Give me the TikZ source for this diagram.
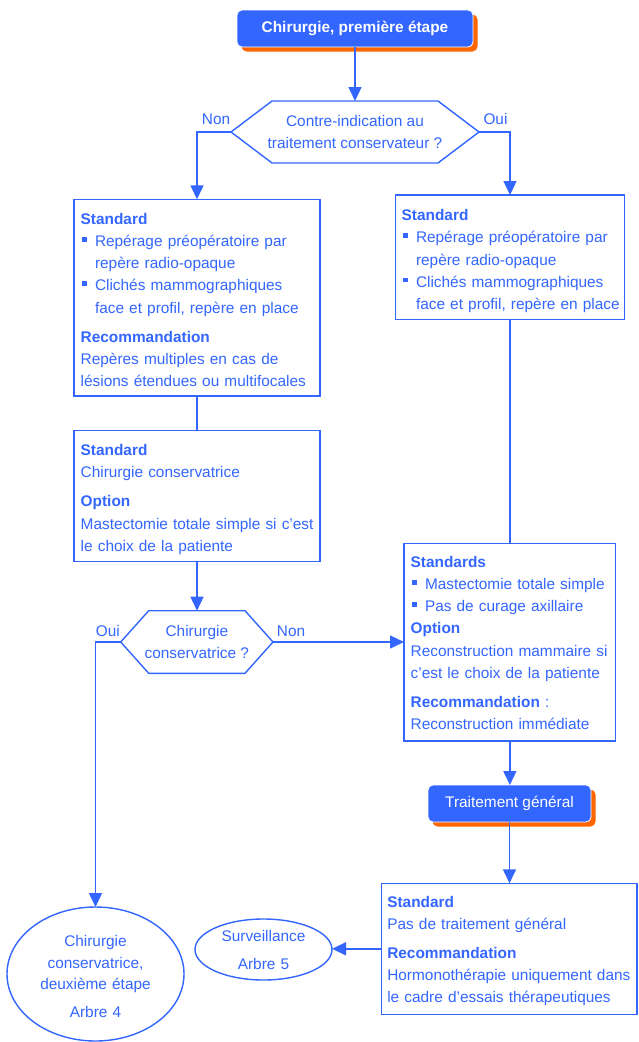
\documentclass[tikz,border=0pt]{standalone}
\usepackage{fontspec}
\setmainfont{Liberation Sans}
\usetikzlibrary{arrows.meta,shapes.geometric,shadows}
\definecolor{bl}{RGB}{51,102,255}
\definecolor{og}{RGB}{255,102,0}
\newcommand\hd[1]{\leavevmode\textbf{#1}\par}
\newcommand\myline[1]{\leavevmode#1\par}
\newcommand\bul[1]{\leavevmode\makebox[14.3pt][l]{\hspace{1.5pt}\rule[5pt]{4.5pt}{4.5pt}}#1\par}
\newcommand\cont[1]{\leavevmode\hspace*{14.3pt}#1\par}
\newcommand\gap{\vspace{6.7pt}}
\begin{document}
\begin{tikzpicture}[x=1pt,y=-1pt,
  every node/.style={text=bl, font=\fontsize{15.4}{22.2}\selectfont},
  ln/.style={draw=bl, line width=1.4pt},
  arr/.style={ln, -{Triangle[length=14pt,width=13pt]}},
  box/.style={draw=bl, line width=1.4pt, inner sep=0pt, outer sep=0pt, rectangle},
  txt/.style={anchor=base west, inner sep=0pt, outer sep=0pt, text width=300pt},
  lbl/.style={anchor=base west, inner sep=0pt},
  hexa/.style={inner sep=0pt, outer sep=0pt, align=center},
  oval/.style={draw=bl, line width=1.4pt, ellipse, inner sep=0pt, outer sep=0pt},
  fancy/.style={rounded corners=5pt, fill=bl, draw=white, line width=0.8pt, text=white, inner sep=0pt, outer sep=0pt,
    general shadow={fill=og, shadow xshift=4.5pt, shadow yshift=-4.5pt}},
]
\useasboundingbox (0,0) rectangle (638,1042);

% title
\node[fancy, minimum width=236pt, minimum height=37pt, font=\fontsize{15.4}{22.2}\selectfont\bfseries] (t) at (355,28.5) {Chirurgie, première étape};

% decision 1
\node[hexa, minimum width=248pt, minimum height=62pt] (d1) at (355,132) {Contre-indication au\\traitement conservateur ?};
\draw[ln] (d1.west) -- ([xshift=41pt]d1.north west) -- ([xshift=-41pt]d1.north east) -- (d1.east) -- ([xshift=-41pt]d1.south east) -- ([xshift=41pt]d1.south west) -- cycle;
\node[lbl] (non1) at (201.7,124) {Non};
\node[lbl] (oui1) at (483.3,124) {Oui};

% boxes
\node[box, minimum width=246pt, minimum height=196.7pt] (b1) at (197,297.65) {};
\node[box, minimum width=228.6pt, minimum height=124.3pt] (b2) at (510,257.15) {};
\node[box, minimum width=246pt, minimum height=131pt] (b3) at (197,496.2) {};
\node[box, minimum width=211.7pt, minimum height=197.7pt] (b4) at (509.85,642.15) {};
\node[box, minimum width=255.3pt, minimum height=131pt] (b5) at (509.35,948.8) {};

\node[txt] (b1t) at (80.7,224.3) {\hd{Standard}\bul{Repérage préopératoire par}\cont{repère radio-opaque}\bul{Clichés mammographiques}\cont{face et profil, repère en place}\gap\hd{Recommandation}\myline{Repères multiples en cas de}\myline{lésions étendues ou multifocales}};
\node[txt] (b2t) at (401.7,220.7) {\hd{Standard}\bul{Repérage préopératoire par}\cont{repère radio-opaque}\bul{Clichés mammographiques}\cont{face et profil, repère en place}};
\node[txt] (b3t) at (80.7,455.7) {\hd{Standard}\myline{Chirurgie conservatrice}\gap\hd{Option}\myline{Mastectomie totale simple si c’est}\myline{le choix de la patiente}};
\node[txt] (b4t) at (410.7,567.3) {\hd{Standards}\bul{Mastectomie totale simple}\bul{Pas de curage axillaire}\hd{Option}\myline{Reconstruction mammaire si}\myline{c’est le choix de la patiente}\gap\myline{\textbf{Recommandation} :}\myline{Reconstruction immédiate}};
\node[txt] (b5t) at (387.3,907.3) {\hd{Standard}\myline{Pas de traitement général}\gap\hd{Recommandation}\myline{Hormonothérapie uniquement dans}\myline{le cadre d’essais thérapeutiques}};

% decision 2
\node[hexa, minimum width=152.3pt, minimum height=62.6pt] (d2) at (196.85,642) {Chirurgie\\conservatrice ?};
\draw[ln] (d2.west) -- ([xshift=28pt]d2.north west) -- ([xshift=-28pt]d2.north east) -- (d2.east) -- ([xshift=-28pt]d2.south east) -- ([xshift=28pt]d2.south west) -- cycle;
\node[lbl] (oui2) at (95.7,636.7) {Oui};
\node[lbl] (non2) at (276.7,636.7) {Non};

% traitement general
\node[fancy, minimum width=163pt, minimum height=37pt] (tg) at (509.5,803.5) {Traitement général};

% ellipses
\node[oval, minimum width=177pt, minimum height=134pt] (e1) at (95.5,974) {};
\node[txt, text width=170pt, align=center, anchor=base, font=\fontsize{15.4}{21.3}\selectfont] (e1t) at (95.5,946.7) {Chirurgie\\conservatrice,\\deuxième étape\\[7pt]Arbre 4};
\node[oval, minimum width=137pt, minimum height=61pt] (e2) at (263.5,949.5) {};
\node[txt, text width=130pt, align=center, anchor=base] (e2t) at (263.5,941) {Surveillance\\[6.3pt]Arbre 5};

% connectors
\draw[arr] (t.south) -- (d1.north);
\draw[arr] (d1.west) -| (b1.north);
\draw[arr] (d1.east) -| (b2.north);
\draw[ln] (b1.south) -- (b3.north);
\draw[arr] (b3.south) -- (b3.south |- d2.north);
\draw[arr] (d2.west) -| (e1.north);
\draw[arr] (d2.east) -- (d2.east -| b4.west);
\draw[ln] (b2.south) -- (b2.south |- b4.north);
\draw[arr] (b4.south) -- (b4.south |- tg.north);
\draw[arr] (tg.south) -- (tg.south |- b5.north);
\draw[arr] (b5.west) -- (b5.west -| e2.east);
\end{tikzpicture}
\end{document}
